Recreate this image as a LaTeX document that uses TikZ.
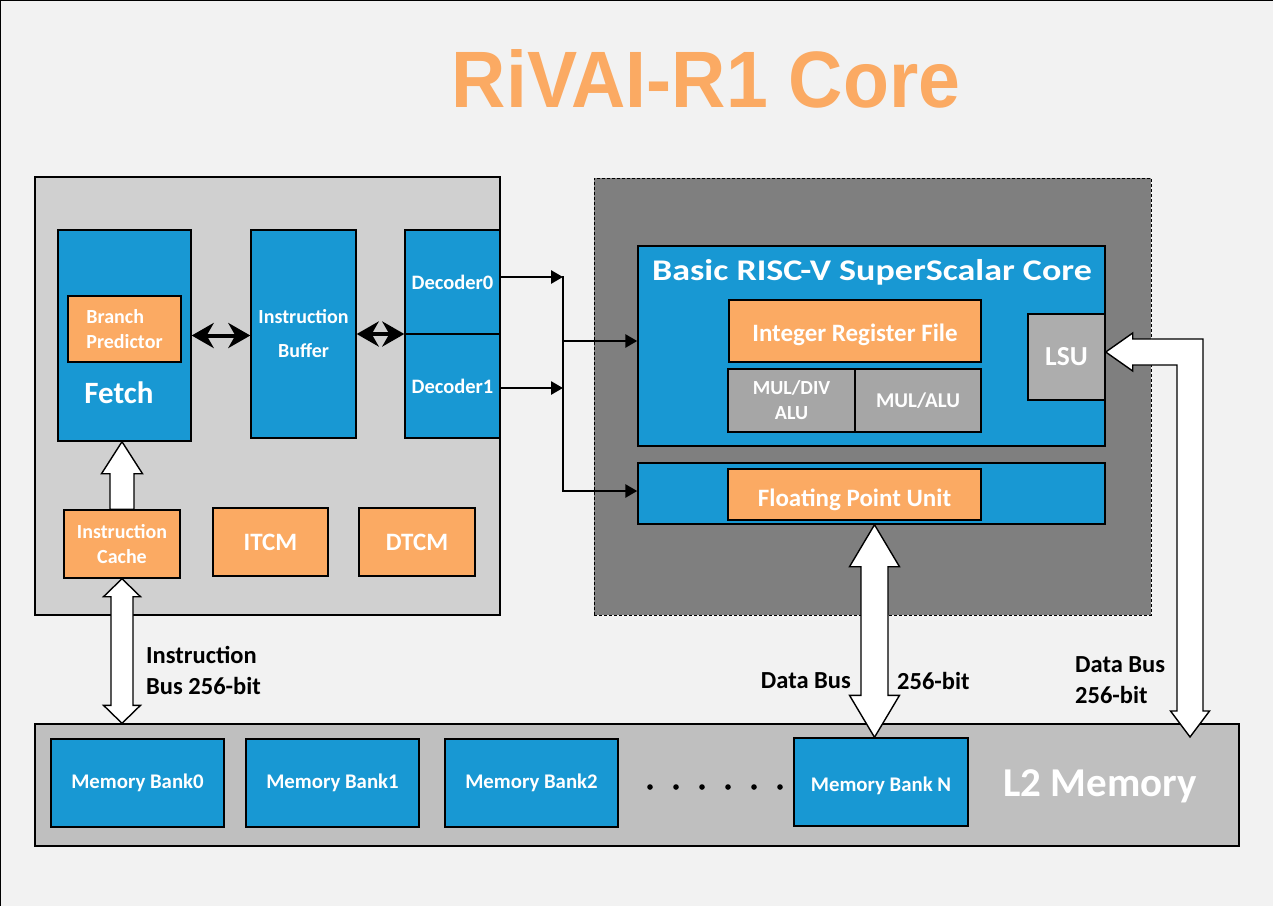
\documentclass[tikz,border=0pt]{standalone}
\usepackage{fontspec}
\setmainfont{Carlito}
\newfontfamily\titlefont{Liberation Sans}
\usepackage{graphicx}
\usetikzlibrary{arrows.meta,calc}
\definecolor{chipblue}{RGB}{24,152,211}
\definecolor{chiporange}{RGB}{251,170,99}
\definecolor{frontgray}{RGB}{208,208,208}
\definecolor{coregray}{RGB}{127,127,127}
\definecolor{alugray}{RGB}{166,166,166}
\definecolor{lsugray}{RGB}{173,173,173}
\definecolor{memgray}{RGB}{191,191,191}
\definecolor{paper}{RGB}{242,242,242}
\newcommand\fsz[2]{\fontsize{#1}{#2}\selectfont}
\newcommand\sinktext[2]{\raisebox{-#1}[\height][\depth]{#2}}
% vertical two-headed block arrow: upper end, lower end, half shaft, half head, head length
\newcommand\busarrow[5]{\draw[hollow] let \p1=(#1), \p2=(#2) in
  (\x1,\y1) -- (\x1+#4,\y1-#5) -- (\x1+#3,\y1-#5) -- (\x1+#3,\y2+#5) -- (\x1+#4,\y2+#5) -- (\x1,\y2)
  -- (\x1-#4,\y2+#5) -- (\x1-#3,\y2+#5) -- (\x1-#3,\y1-#5) -- (\x1-#4,\y1-#5) -- cycle;}

\begin{document}
\begin{tikzpicture}[x=1pt,y=-1pt,
  every node/.style={font=\bfseries\fsz{20}{25},text=white,inner sep=0pt,align=center},
  blk/.style 2 args={draw=black,line width=1.4pt,minimum width=#1pt,minimum height=#2pt},
  bluebox/.style 2 args={blk={#1}{#2},fill=chipblue},
  orangebox/.style 2 args={blk={#1}{#2},fill=chiporange},
  graybox/.style 2 args={blk={#1}{#2},fill=alugray},
  tag/.style={text=black,font=\bfseries\fsz{24.5}{31}},
  hollow/.style={draw=black,line width=1.4pt,fill=white,line join=miter},
  wire/.style={line width=2.7pt,-{Triangle[length=12pt,width=13pt]}},
  link/.style={line width=4pt,{Stealth[length=22pt,width=25pt,inset=7pt]}-{Stealth[length=22pt,width=25pt,inset=7pt]}}]
\useasboundingbox (0,0) rectangle (1273,906);
\fill[paper] (0,0) rectangle (1273,906);
\draw[line width=1pt] (0,906) -- (0,0) -- (1273,0);
\node[text=chiporange,font=\titlefont\bfseries\fsz{80}{90}] (title) at (706,79) {\scalebox{0.94}[1]{RiVAI-R1 Core}};

% front end
\node[blk={465}{438},fill=frontgray] (front) at (267.5,396) {};
\node[bluebox={133}{211}] (fetch) at (124.5,335.5) {};
\node[orangebox={113}{66},align=left] (bp) at (124.5,329) {Branch\\Predictor};
\node[font=\bfseries\fsz{31}{36}] (fetchlbl) at (119,393) {Fetch};
\node[bluebox={105}{208},font=\bfseries\fsz{20}{34}] (buf) at (303.5,334) {Instruction\\Buffer};
\node[bluebox={95}{104},font=\bfseries\fsz{20.5}{25}] (dec0) at (452.5,282) {Decoder0};
\node[bluebox={95}{104},font=\bfseries\fsz{20.5}{25}] (dec1) at (452.5,386) {Decoder1};
\node[orangebox={116}{68}] (icache) at (122,544) {Instruction\\Cache};
\node[orangebox={115}{68},font=\bfseries\fsz{25}{30}] (itcm) at (270.5,542) {ITCM};
\node[orangebox={116}{68},font=\bfseries\fsz{25}{30}] (dtcm) at (417,542) {DTCM};

% core cluster
\node[draw=black,line width=0.8pt,dash pattern=on 3pt off 2pt,fill=coregray,minimum width=557pt,minimum height=437pt] (cluster) at (872.5,396.5) {};
\node[bluebox={467}{200}] (core) at (871.5,346) {};
\node[font=\bfseries\fsz{30}{34}] (corelbl) at (872,272) {\scalebox{1.2}[1]{Basic RISC-V SuperScalar Core}};
\node[orangebox={252}{62},font=\bfseries\fsz{25}{30}] (irf) at (855,331) {\sinktext{4pt}{Integer Register File}};
\node[graybox={127}{63}] (muldiv) at (791.5,400.5) {MUL/DIV\\ALU};
\node[graybox={126}{63},font=\bfseries\fsz{21}{25}] (mulalu) at (918,400.5) {MUL/ALU};
\node[graybox={77}{86},fill=lsugray,font=\bfseries\fsz{27.5}{30}] (lsu) at (1066.5,357) {LSU};
\node[bluebox={467}{61}] (fpuslot) at (871.5,493.5) {};
\node[orangebox={253}{51},font=\bfseries\fsz{25}{30}] (fpu) at (854.5,494.5) {\sinktext{5pt}{Floating Point Unit}};

% L2 memory
\node[blk={1204}{122},fill=memgray] (l2) at (637,785) {};
\node[bluebox={173}{88},font=\bfseries\fsz{20.8}{25}] (bank0) at (137.5,783) {Memory Bank0};
\node[bluebox={173}{88},font=\bfseries\fsz{20.8}{25}] (bank1) at (332.5,783) {Memory Bank1};
\node[bluebox={173}{88},font=\bfseries\fsz{20.8}{25}] (bank2) at (531.5,783) {Memory Bank2};
\node[bluebox={174}{88},font=\bfseries\fsz{20.8}{25}] (bankN) at (881,782) {\sinktext{4pt}{Memory Bank N}};
\foreach \x in {650,676,...,781} \fill (\x,787) circle (2.8pt);
\node[font=\bfseries\fsz{41}{48}] (l2lbl) at (1100,786) {L2 Memory};

% fetch / decode links
\draw[link] (fetch.east) -- (fetch.east -| buf.west);
\draw[link] (buf.east) -- (buf.east -| dec0.south west);

% issue bus
\coordinate (bus) at (563,0);
\draw[wire] ([yshift=5pt]dec0.east) -- ([yshift=5pt]dec0.east -| bus);
\draw[wire] ([yshift=-2pt]dec1.east) -- ([yshift=-2pt]dec1.east -| bus);
\draw[line width=2.7pt,line cap=rect] ([yshift=5pt]dec0.east -| bus) -- ([yshift=2.5pt]fpuslot.west -| bus);
\draw[wire] ([yshift=5pt]core.west -| bus) -- ([yshift=5pt]core.west);
\draw[wire] ([yshift=2.5pt]fpuslot.west -| bus) -- ([yshift=2.5pt]fpuslot.west);

% block arrows
\draw[hollow] let \p1=(fetch.south), \p2=(icache.north) in
  (\x2,\y1) -- (\x2+20.5pt,\y1-32pt) -- (\x2+12pt,\y1-32pt) -- (\x2+12pt,\y2) -- (\x2-12pt,\y2)
  -- (\x2-12pt,\y1-32pt) -- (\x2-20.5pt,\y1-32pt) -- cycle;
\busarrow{icache.south}{l2.north}{11pt}{18.5pt}{18pt}
\busarrow{[xshift=3pt]fpuslot.south}{bankN.north}{13.5pt}{25pt}{42pt}
\coordinate (lsudrop) at (1190,737);
\draw[hollow] let \p1=([yshift=5pt]lsu.east), \p2=(lsudrop) in
  (\x1,\y1) -- (\x1+27pt,\y1+19pt) -- (\x1+27pt,\y1+13pt) -- (\x2+13pt,\y1+13pt) -- (\x2+13pt,\y2+26pt)
  -- (\x2+19.5pt,\y2+26pt) -- (\x2,\y2) -- (\x2-19.5pt,\y2+26pt) -- (\x2-13pt,\y2+26pt)
  -- (\x2-13pt,\y1-13pt) -- (\x1+27pt,\y1-13pt) -- (\x1+27pt,\y1-19pt) -- cycle;

% bus labels
\node[tag,anchor=west,align=left] (ibuslbl) at (146,670.5) {Instruction\\Bus 256-bit};
\node[tag,anchor=east] (dbuslbl) at (851,681) {Data Bus};
\node[tag,anchor=west] (dwidthlbl) at (897,681) {256-bit};
\node[tag,anchor=west,align=left] (lsubuslbl) at (1075,680.5) {Data Bus\\256-bit};
\end{tikzpicture}
\end{document}
